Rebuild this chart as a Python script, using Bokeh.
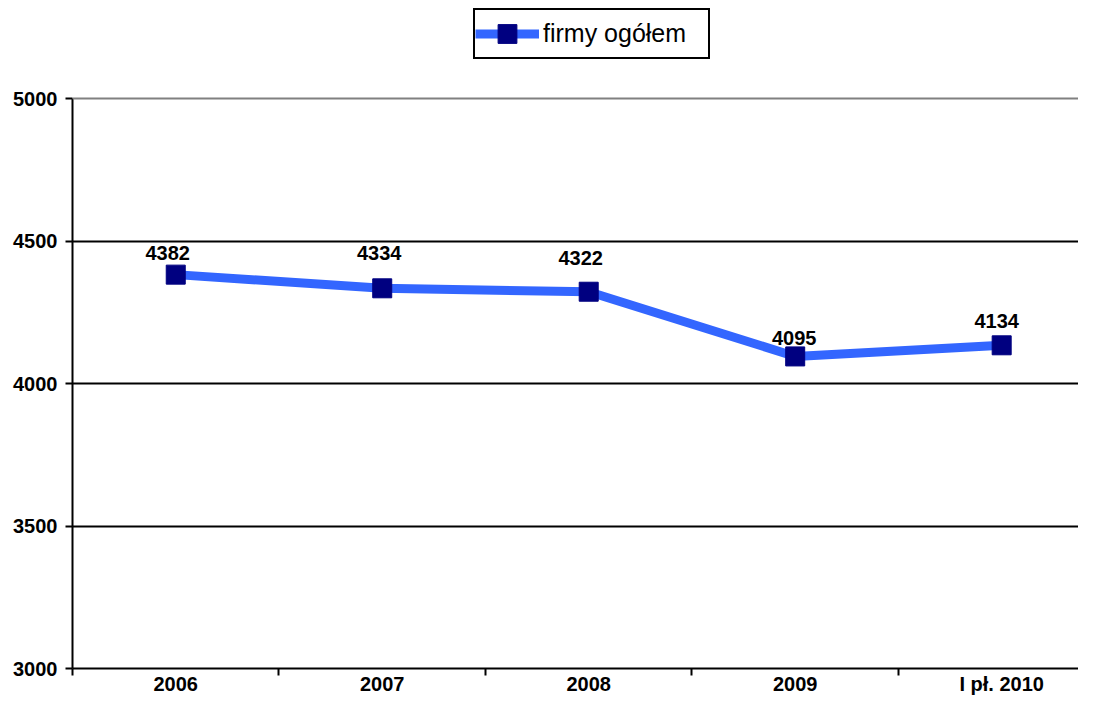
from bokeh.plotting import figure
from bokeh.models import (Range1d, FixedTicker, ColumnDataSource, LabelSet,
                          Legend, LegendItem, Span)
from bokeh.core.properties import value
from bokeh.embed import file_html
from bokeh.resources import INLINE

# ---- data ----
categories = ["2006", "2007", "2008", "2009", "I pł. 2010"]
values = [4382, 4334, 4322, 4095, 4134]
y_ticks = [3000, 3500, 4000, 4500, 5000]
series_name = "firmy ogółem"

# label nudges (screen px) to mimic the hand-placed data labels
label_dx = [-8, -3, -8, -1, -5]
label_dy = [15, 28, 27, 11, 17]

FONT = "Liberation Sans"
n = len(categories)
xs = [i + 0.5 for i in range(n)]
src = ColumnDataSource(dict(x=xs, y=values, label=[str(v) for v in values],
                            dx=label_dx, dy=label_dy))

# layout: plot area 72..1078 px wide, value axis 98..668 px tall; the frame
# extends to the top of the canvas so the legend can sit above the value area
FRAME_BOTTOM = 668
AXIS_TOP = 98
span_v = y_ticks[-1] - y_ticks[0]
y_end = y_ticks[0] + span_v * FRAME_BOTTOM / (FRAME_BOTTOM - AXIS_TOP)

p = figure(width=1078, height=697, output_backend="svg", toolbar_location=None,
           x_range=Range1d(0, 4.872), y_range=Range1d(y_ticks[0], y_end),
           min_border_left=72, min_border_right=0, min_border_top=0,
           min_border_bottom=29)
p.outline_line_color = None
p.background_fill_color = "white"
p.border_fill_color = "white"

# grid
p.xgrid.visible = False
p.ygrid.ticker = FixedTicker(ticks=y_ticks[1:-1])
p.ygrid.grid_line_color = "black"
p.ygrid.grid_line_width = 2
p.add_layout(Span(location=y_ticks[-1], dimension="width",
                  line_color="#808080", line_width=2))

# y axis
p.yaxis.ticker = FixedTicker(ticks=y_ticks)
p.yaxis.bounds = (y_ticks[0], y_ticks[-1])
p.yaxis.axis_line_width = 2
p.yaxis.axis_line_color = "black"
p.yaxis.major_tick_line_width = 2
p.yaxis.major_tick_line_color = "black"
p.yaxis.major_tick_in = 0
p.yaxis.major_tick_out = 7
p.yaxis.minor_tick_line_color = None
p.yaxis.major_label_standoff = 8
p.yaxis.major_label_text_font = FONT
p.yaxis.major_label_text_font_style = "bold"
p.yaxis.major_label_text_font_size = "20px"
p.yaxis.major_label_text_color = "black"

# x axis
p.xaxis.ticker = FixedTicker(ticks=xs, minor_ticks=list(range(n)))
p.xaxis.major_label_overrides = {x: c for x, c in zip(xs, categories)}
p.xaxis.axis_line_width = 2
p.xaxis.axis_line_color = "black"
p.xaxis.major_tick_in = 0
p.xaxis.major_tick_out = 0
p.xaxis.major_tick_line_color = None
p.xaxis.minor_tick_in = 0
p.xaxis.minor_tick_out = 7
p.xaxis.minor_tick_line_width = 2
p.xaxis.minor_tick_line_color = "black"
p.xaxis.major_label_standoff = -3
p.xaxis.major_label_text_font = FONT
p.xaxis.major_label_text_font_style = "bold"
p.xaxis.major_label_text_font_size = "20px"
p.xaxis.major_label_text_color = "black"

# series
line_r = p.line("x", "y", source=src, line_color="#3366FF", line_width=9,
                line_join="round")
sc_r = p.scatter("x", "y", source=src, marker="square", size=19,
                 fill_color="#000080", line_color="#000080")

labels = LabelSet(x="x", y="y", text="label", x_offset="dx", y_offset="dy",
                  source=src, text_align="center", text_baseline="alphabetic",
                  text_font=value(FONT), text_font_style="bold",
                  text_font_size="20px", text_color="black")
p.add_layout(labels)

legend = Legend(items=[LegendItem(label=series_name, renderers=[line_r, sc_r])],
                location=(401, FRAME_BOTTOM - 59), padding=0, margin=0, spacing=0,
                glyph_width=64, glyph_height=47, label_height=47,
                label_width=165, label_standoff=4,
                border_line_color="black", border_line_width=2,
                border_line_alpha=1.0,
                label_text_font=FONT, label_text_font_size="25px",
                label_text_color="black", background_fill_color="white",
                background_fill_alpha=1)
p.add_layout(legend)

open("out.html", "w").write(file_html(p, INLINE))
